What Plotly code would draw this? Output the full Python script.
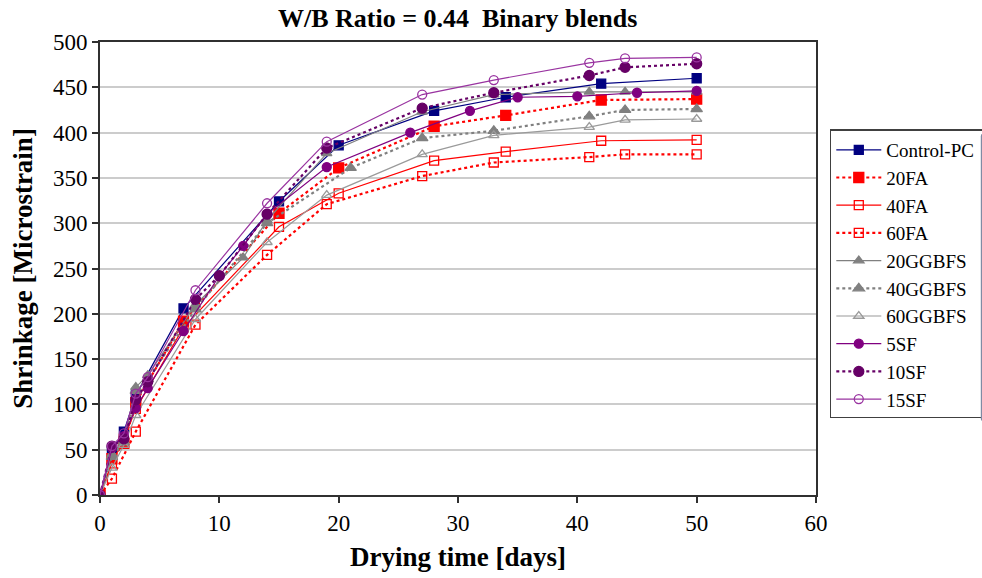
import plotly.graph_objects as go

# ---------------- data ----------------
pc_days = [0, 1, 2, 3, 7, 15, 20, 28, 34, 42, 50]
pc_vals = [0, 48, 70, 110, 206, 324, 386, 424, 439, 454, 460]

fa20_days = [0, 1, 2, 3, 7, 15, 20, 28, 34, 42, 50]
fa20_vals = [0, 40, 57, 102, 192, 311, 361, 407, 419, 436, 437]

fa40_days = [0, 1, 2, 3, 7, 15, 20, 28, 34, 42, 50]
fa40_vals = [0, 35, 62, 95, 185, 296, 333, 369, 379, 391, 392]

fa60_days = [0, 1, 3, 8, 14, 19, 27, 33, 41, 44, 50]
fa60_vals = [0, 18, 70, 188, 265, 321, 352, 367, 373, 376, 376]

gg20_days = [0, 1, 2, 3, 4, 8, 12, 14, 19, 27, 33, 41, 44, 50]
gg20_vals = [0, 45, 60, 119, 132, 210, 262, 303, 377, 423, 442, 445, 445, 445]

gg40_days = [0, 1, 2, 3, 4, 8, 14, 21, 27, 33, 41, 44, 50]
gg40_vals = [0, 42, 58, 115, 128, 205, 300, 361, 394, 402, 418, 425, 426]

gg60_days = [0, 1, 2, 3, 8, 14, 19, 27, 33, 41, 44, 50]
gg60_vals = [0, 30, 55, 88, 194, 279, 331, 376, 397, 406, 414, 415]

sf5_days = [0, 1, 2, 3, 4, 7, 10, 12, 14, 19, 26, 31, 35, 40, 45, 50]
sf5_vals = [0, 52, 65, 96, 118, 181, 242, 275, 310, 362, 400, 424, 439, 440, 444, 446]

sf10_days = [0, 1, 2, 3, 4, 8, 10, 14, 19, 27, 33, 41, 44, 50]
sf10_vals = [0, 54, 62, 105, 125, 216, 242, 310, 383, 427, 444, 463, 472, 476]

sf15_days = [0, 1, 2, 3, 4, 8, 14, 19, 27, 33, 41, 44, 50]
sf15_vals = [0, 54, 68, 112, 130, 226, 322, 390, 442, 458, 477, 482, 483]

x_ticks = [0, 10, 20, 30, 40, 50, 60]
y_ticks = [0, 50, 100, 150, 200, 250, 300, 350, 400, 450, 500]

NAVY = "#000080"
RED = "#ff0000"
GRAY = "#808080"
LGRAY = "#9a9a9a"
PURPLE = "#800080"
DPURPLE = "#660066"
LPURPLE = "#9933a0"

series = [
    ("Control-PC", pc_days, pc_vals, NAVY, "solid", 1.2, "square", 9),
    ("20FA", fa20_days, fa20_vals, RED, "dot", 2.2, "square", 10),
    ("40FA", fa40_days, fa40_vals, RED, "solid", 1.2, "square-open", 9),
    ("60FA", fa60_days, fa60_vals, RED, "dot", 2.2, "square-open", 9),
    ("20GGBFS", gg20_days, gg20_vals, GRAY, "solid", 1.2, "triangle-up", 9),
    ("40GGBFS", gg40_days, gg40_vals, GRAY, "dot", 2.2, "triangle-up", 10),
    ("60GGBFS", gg60_days, gg60_vals, LGRAY, "solid", 1.2, "triangle-up-open", 9),
    ("5SF", sf5_days, sf5_vals, PURPLE, "solid", 1.2, "circle", 9),
    ("10SF", sf10_days, sf10_vals, DPURPLE, "dot", 2.2, "circle", 10),
    ("15SF", sf15_days, sf15_vals, LPURPLE, "solid", 1.2, "circle-open", 9),
]

FONT = "Liberation Serif"

fig = go.Figure()
for name, xs, ys, col, dash, w, sym, ms in series:
    fig.add_trace(go.Scatter(
        x=xs, y=ys, name=name, mode="lines+markers", legendgroup=name,
        line=dict(color=col, dash=dash, width=w),
        marker=dict(symbol=sym, size=ms, color=col,
                    line=dict(color=col, width=1.3)),
    ))

fig.update_layout(
    width=982, height=578,
    margin=dict(l=100, r=166, t=42, b=83, autoexpand=False),
    paper_bgcolor="white", plot_bgcolor="white",
    font=dict(family=FONT, color="black"),
    title=dict(text="<b>W/B Ratio = 0.44  Binary blends</b>",
               font=dict(family=FONT, size=26, color="black"),
               x=0.466, xanchor="center", y=0.969, yanchor="middle"),
    showlegend=True,
    legend=dict(xref="container", yref="container",
                x=0.845, xanchor="left", y=0.776, yanchor="top",
                bgcolor="white", bordercolor="#404040", borderwidth=1.5,
                font=dict(family=FONT, size=19, color="black"),
                tracegroupgap=0, itemwidth=45),
)
fig.update_xaxes(
    range=[0, 60], tickvals=x_ticks, ticktext=[str(v) for v in x_ticks],
    showgrid=False, zeroline=False,
    showline=True, linecolor="#303030", linewidth=2, mirror=True,
    ticks="outside", ticklen=6, tickcolor="#303030", tickwidth=1.5,
    tickfont=dict(family=FONT, size=23, color="black"),
    title=dict(text="<b>Drying time [days]</b>", standoff=13,
               font=dict(family=FONT, size=27, color="black")),
)
fig.update_yaxes(
    range=[0, 500], tickvals=y_ticks, ticktext=[str(v) for v in y_ticks],
    showgrid=True, gridcolor="#cccccc", gridwidth=2, zeroline=False,
    showline=True, linecolor="#303030", linewidth=2, mirror=True,
    ticks="outside", ticklen=6, tickcolor="#303030", tickwidth=1.5,
    tickfont=dict(family=FONT, size=23, color="black"),
    title=dict(text="<b>Shrinkage [Microstrain]</b>", standoff=12,
               font=dict(family=FONT, size=27, color="black")),
)

fig.write_html("out.html")
